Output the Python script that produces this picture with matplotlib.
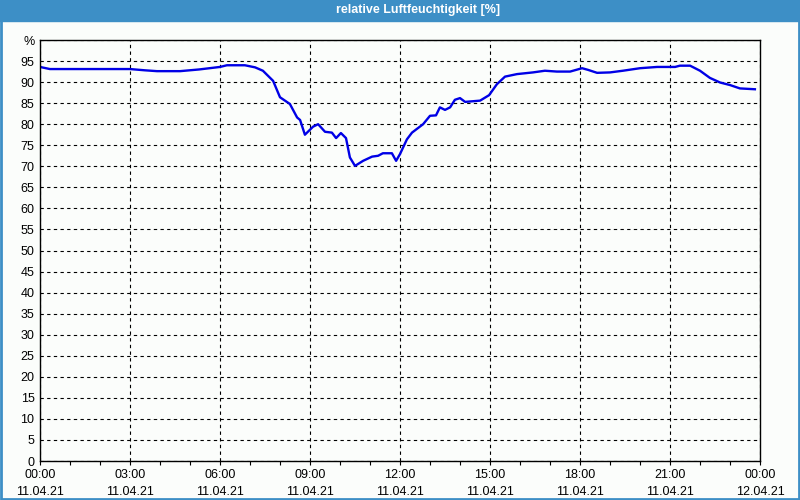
import matplotlib
matplotlib.use("Agg")
from matplotlib import pyplot as plt
from matplotlib.patches import Rectangle

# Stunden seit 11.04.21 00:00 und relative Luftfeuchtigkeit in %
stunden = [0.0, 0.33, 1.5, 3.0, 3.5, 3.9, 4.67, 5.3, 6.0, 6.23, 6.83, 7.17, 7.43,
           7.77, 8.0, 8.33, 8.57, 8.67, 8.83, 9.1, 9.27, 9.5, 9.73, 9.87, 10.03,
           10.2, 10.33, 10.5, 10.77, 11.07, 11.27, 11.43, 11.73, 11.87, 12.0,
           12.23, 12.4, 12.77, 13.0, 13.2, 13.33, 13.5, 13.67, 13.83, 14.0,
           14.17, 14.67, 14.97, 15.23, 15.5, 15.9, 16.43, 16.83, 17.23, 17.67,
           18.07, 18.27, 18.57, 19.0, 19.43, 20.0, 20.57, 21.17, 21.33, 21.67,
           22.0, 22.33, 22.67, 23.0, 23.33, 23.83]
feuchte = [93.6, 93.1, 93.1, 93.1, 92.8, 92.6, 92.6, 93.0, 93.6, 94.0, 94.0, 93.5,
           92.7, 90.3, 86.4, 84.8, 81.6, 81.0, 77.5, 79.4, 80.0, 78.2, 78.0, 76.7,
           77.9, 76.7, 72.1, 70.1, 71.3, 72.3, 72.5, 73.1, 73.1, 71.3, 72.9,
           76.4, 78.0, 80.0, 82.0, 82.1, 84.0, 83.4, 84.0, 85.8, 86.2,
           85.3, 85.6, 86.9, 89.5, 91.3, 91.9, 92.3, 92.7, 92.5, 92.5,
           93.3, 92.9, 92.2, 92.3, 92.7, 93.3, 93.6, 93.6, 93.9, 93.9,
           92.7, 91.0, 89.9, 89.3, 88.5, 88.3]

tick_stunden = [0, 3, 6, 9, 12, 15, 18, 21, 24]
tick_labels = ["00:00\n11.04.21", "03:00\n11.04.21", "06:00\n11.04.21",
               "09:00\n11.04.21", "12:00\n11.04.21", "15:00\n11.04.21",
               "18:00\n11.04.21", "21:00\n11.04.21", "00:00\n12.04.21"]

blau = "#3d8fc6"
plt.rcParams['font.family'] = ['Liberation Sans', 'DejaVu Sans']

fig = plt.figure(figsize=(8, 5), dpi=100, facecolor="#fbfdfb")
# Titelleiste und Rahmen
fig.patches.append(Rectangle((0, 0.959), 1, 0.041, transform=fig.transFigure,
                             color=blau, zorder=0))
fig.patches.append(Rectangle((0.001, 0.002), 0.998, 0.996, transform=fig.transFigure,
                             fill=False, edgecolor=blau, linewidth=2, zorder=1))
fig.text(0.522, 0.979, "relative Luftfeuchtigkeit [%]", color="white",
         ha="center", va="center", fontsize=9, fontweight="bold")

ax = fig.add_axes([0.05, 0.078, 0.90, 0.842])
ax.set_facecolor("#fbfdfb")
ax.plot(stunden, feuchte, color="#0000e6", linewidth=1.7)

ax.set_xlim(0, 24)
ax.set_ylim(0, 100)
ax.set_xticks(tick_stunden)
ax.set_xticklabels(tick_labels, fontsize=9, linespacing=1.55)
ax.set_xticks(range(25), minor=True)
ax.set_yticks(range(0, 101, 5))
ax.set_yticklabels([str(v) for v in range(0, 100, 5)] + ["%"], fontsize=9)
ax.tick_params(axis="x", which="both", direction="out", length=3, width=0.8, pad=3)
ax.tick_params(axis="y", length=0, pad=4)
ax.grid(True, which="major", color="black", linestyle=(0, (3, 3)), linewidth=0.8)
for s in ax.spines.values():
    s.set_color("black")
    s.set_linewidth(1)

plt.savefig("out.png", dpi=100, facecolor=fig.get_facecolor())
